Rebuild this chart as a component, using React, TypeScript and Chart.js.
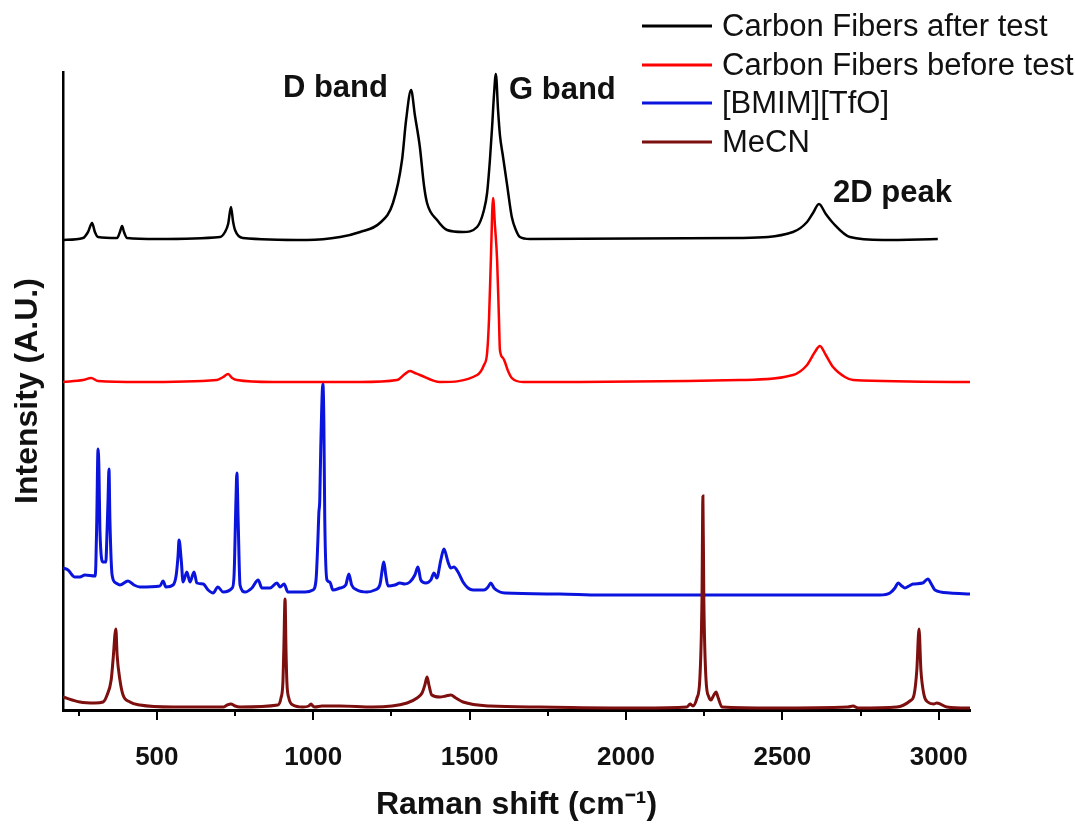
import React, { useEffect, useRef } from "react";
import { Chart, registerables } from "chart.js";

Chart.register(...registerables);

// ---- axis ranges / ticks ----
const X_MIN = 200;
const X_MAX = 3100;
const Y_MIN = 0;
const Y_MAX = 638;
const MAJOR_TICKS = [500, 1000, 1500, 2000, 2500, 3000];
const MINOR_TICKS = [250, 750, 1250, 1750, 2250, 2750];

// ---- series labels & colours ----
const SERIES_LABELS = [
  "Carbon Fibers after test",
  "Carbon Fibers before test",
  "[BMIM][TfO]",
  "MeCN",
];
const SERIES_COLORS = ["#000000", "#ff0000", "#0a14dc", "#7d0f0f"];

// ---- spectra: [Raman shift (cm-1), stacked intensity (A.U.)] ----
const CF_AFTER: [number, number][] = [
  [200, 470], [264, 472], [280, 478], [293, 487], [302, 478], [312, 473], [373, 472], [382, 478],
  [389, 484], [395, 478], [405, 472], [501, 471], [702, 473], [718, 478], [728, 486], [737, 503],
  [744, 488], [750, 480], [775, 472], [980, 470], [1086, 473], [1150, 478], [1213, 487], [1255, 507],
  [1284, 550], [1297, 590], [1313, 620], [1325, 595], [1341, 563], [1354, 525], [1364, 507],
  [1396, 490], [1428, 480], [1479, 478], [1524, 483], [1546, 500], [1556, 517], [1565, 550],
  [1572, 583], [1578, 615], [1584, 636], [1591, 600], [1597, 575], [1607, 553], [1620, 525],
  [1635, 493], [1648, 480], [1661, 473], [1693, 471], [2364, 472], [2534, 478], [2579, 488],
  [2598, 497], [2617, 506], [2639, 496], [2662, 487], [2716, 473], [2822, 470], [2997, 471],
];

const CF_BEFORE: [number, number][] = [
  [200, 328], [264, 330], [290, 332], [312, 329], [446, 328], [692, 330], [712, 333], [728, 336],
  [741, 332], [756, 330], [871, 328], [1150, 328], [1268, 330], [1293, 336], [1309, 339], [1325, 337],
  [1341, 335], [1405, 328], [1524, 335], [1546, 345], [1556, 357], [1562, 390], [1568, 450],
  [1575, 512], [1581, 485], [1588, 450], [1594, 390], [1597, 360], [1607, 352], [1613, 348],
  [1623, 339], [1635, 332], [1671, 328], [2364, 330], [2534, 335], [2579, 345], [2604, 358],
  [2620, 364], [2639, 355], [2662, 343], [2700, 333], [2726, 330], [3100, 328],
];

const BMIM_TFO: [number, number][] = [
  [200, 142], [216, 140], [238, 133], [254, 133], [270, 135], [302, 134], [305, 145], [308, 190],
  [312, 261], [315, 240], [318, 180], [328, 148], [337, 148], [340, 170], [344, 210], [347, 241],
  [350, 190], [357, 135], [369, 127], [382, 125], [408, 129], [427, 125], [446, 123], [510, 124],
  [520, 129], [529, 123], [552, 125], [562, 135], [568, 155], [571, 170], [578, 150], [584, 128],
  [596, 138], [606, 128], [619, 138], [628, 127], [648, 126], [664, 120], [680, 117], [695, 123],
  [712, 118], [741, 122], [747, 135], [753, 210], [756, 237], [760, 190], [766, 125], [782, 118],
  [804, 122], [824, 130], [836, 122], [862, 122], [884, 127], [894, 123], [907, 126], [919, 118],
  [974, 118], [999, 120], [1009, 130], [1015, 170], [1018, 197], [1021, 210], [1024, 260],
  [1031, 326], [1034, 290], [1037, 190], [1044, 130], [1053, 128], [1063, 120], [1086, 122],
  [1104, 125], [1114, 136], [1123, 125], [1140, 120], [1172, 118], [1197, 120], [1213, 125],
  [1223, 145], [1226, 148], [1232, 135], [1239, 124], [1261, 125], [1277, 127], [1293, 126],
  [1309, 128], [1325, 135], [1335, 143], [1344, 130], [1360, 127], [1376, 130], [1386, 137],
  [1395, 132], [1408, 150], [1418, 161], [1431, 148], [1440, 142], [1450, 143], [1463, 138],
  [1479, 128], [1495, 122], [1511, 120], [1546, 120], [1559, 123], [1568, 127], [1578, 122],
  [1597, 118], [1613, 117], [1789, 116], [1917, 115], [2109, 115], [2364, 115], [2556, 115],
  [2812, 115], [2844, 117], [2860, 122], [2870, 127], [2882, 124], [2892, 122], [2905, 124],
  [2918, 126], [2949, 127], [2965, 131], [2978, 125], [2988, 120], [3036, 117], [3100, 116],
];

const MECN: [number, number][] = [
  [200, 13], [254, 8], [302, 7], [328, 8], [341, 15], [354, 30], [360, 50], [369, 81], [373, 55],
  [382, 30], [392, 15], [414, 8], [446, 5], [552, 3], [712, 3], [725, 5], [737, 6], [750, 4],
  [766, 3], [887, 5], [897, 12], [903, 27], [906, 60], [910, 111], [913, 60], [916, 27], [922, 12],
  [935, 5], [967, 3], [986, 4], [993, 6], [999, 4], [1005, 3], [1028, 4], [1086, 4], [1191, 3],
  [1300, 7], [1332, 12], [1348, 17], [1357, 25], [1364, 33], [1370, 25], [1379, 15], [1405, 13],
  [1424, 14], [1440, 15], [1456, 12], [1479, 8], [1565, 4], [1725, 3], [2045, 2], [2195, 3],
  [2205, 6], [2214, 4], [2227, 12], [2236, 30], [2243, 110], [2246, 214], [2249, 110], [2256, 30],
  [2265, 13], [2272, 10], [2281, 15], [2288, 18], [2294, 13], [2307, 3], [2470, 2], [2710, 3],
  [2726, 4], [2742, 2], [2866, 3], [2908, 9], [2921, 15], [2930, 40], [2937, 81], [2943, 40],
  [2953, 15], [2965, 8], [2984, 6], [2994, 7], [3026, 3], [3093, 2], [3100, 2],
];

const SERIES_DATA = [CF_AFTER, CF_BEFORE, BMIM_TFO, MECN];

// ---- band annotations (text, x in cm-1, y in A.U., alignment) ----
const ANNOTATION_TEXT = ["D band", "G band", "2D peak"];
const ANNOTATION_X = [1239, 1626, 2662];
const ANNOTATION_Y = [622, 620, 517];
const ANNOTATION_ALIGN: CanvasTextAlign[] = ["right", "left", "left"];

const FONT = "'Liberation Sans', Arial, Helvetica, sans-serif";

const overlayPlugin = {
  id: "overlay",
  afterDraw(chart: any) {
    const ctx: CanvasRenderingContext2D = chart.ctx;
    const xs = chart.scales.x;
    const ys = chart.scales.y;
    ctx.save();
    // minor ticks
    ctx.strokeStyle = "#000";
    ctx.lineWidth = 2;
    for (const v of MINOR_TICKS) {
      const px = Math.round(xs.getPixelForValue(v));
      ctx.beginPath();
      ctx.moveTo(px, xs.top);
      ctx.lineTo(px, xs.top + 6);
      ctx.stroke();
    }
    // annotations
    ctx.fillStyle = "#111";
    ctx.font = `bold 31px ${FONT}`;
    ctx.textBaseline = "middle";
    ANNOTATION_TEXT.forEach((t, i) => {
      ctx.textAlign = ANNOTATION_ALIGN[i];
      ctx.fillText(t, xs.getPixelForValue(ANNOTATION_X[i]), ys.getPixelForValue(ANNOTATION_Y[i]));
    });
    // legend
    const rows = [26, 65, 103, 142];
    ctx.font = `31px ${FONT}`;
    ctx.textAlign = "left";
    chart.data.datasets.forEach((ds: any, i: number) => {
      const y = rows[i];
      ctx.strokeStyle = ds.borderColor;
      ctx.lineWidth = 3;
      ctx.beginPath();
      ctx.moveTo(642, y);
      ctx.lineTo(712, y);
      ctx.stroke();
      ctx.fillStyle = "#111";
      ctx.fillText(ds.label, 722, y + 1);
    });
    ctx.restore();
  },
};

export default function App() {
  const canvasRef = useRef<HTMLCanvasElement | null>(null);

  useEffect(() => {
    document.body.style.margin = "0";
    const canvas = canvasRef.current;
    if (!canvas) return;
    const chart = new Chart(canvas, {
      type: "line",
      data: {
        datasets: SERIES_DATA.map((arr, i) => ({
          label: SERIES_LABELS[i],
          data: arr.map(([x, y]) => ({ x, y })),
          borderColor: SERIES_COLORS[i],
          backgroundColor: SERIES_COLORS[i],
          borderWidth: i >= 2 ? 3 : 2.5,
          pointRadius: 0,
          fill: false,
          cubicInterpolationMode: "monotone" as const,
          order: i === 3 ? 0 : 1,
        })),
      },
      options: {
        responsive: false,
        animation: false,
        devicePixelRatio: 1,
        layout: { padding: { top: 72, right: 105, left: 0, bottom: 0 } },
        plugins: {
          legend: { display: false },
          tooltip: { enabled: false },
        },
        scales: {
          x: {
            type: "linear",
            min: X_MIN,
            max: X_MAX,
            afterBuildTicks: (s: any) => {
              s.ticks = MAJOR_TICKS.map((v) => ({ value: v }));
            },
            afterFit: (s: any) => {
              s.height = 114;
            },
            border: { display: true, color: "#000", width: 3 },
            grid: {
              display: true,
              drawOnChartArea: false,
              drawTicks: true,
              tickLength: 10,
              color: "#000",
              lineWidth: 2,
            },
            ticks: {
              autoSkip: false,
              maxRotation: 0,
              color: "#111",
              padding: 22,
              callback: (v: any) => String(v),
              font: { family: FONT, size: 26, weight: "bold" },
            },
            title: {
              display: true,
              text: "Raman shift (cm\u207B\u00B9)",
              color: "#111",
              padding: { top: 0, bottom: 0 },
              font: { family: FONT, size: 32, weight: "bold" },
            },
          },
          y: {
            type: "linear",
            min: Y_MIN,
            max: Y_MAX,
            afterFit: (s: any) => {
              s.width = 63;
            },
            border: { display: true, color: "#000", width: 2.5 },
            grid: { display: false },
            ticks: { display: false },
            title: {
              display: true,
              text: "Intensity (A.U.)",
              color: "#111",
              padding: { top: 9, bottom: 0 },
              font: { family: FONT, size: 32, weight: "bold" },
            },
          },
        },
      },
      plugins: [overlayPlugin],
    });
    return () => chart.destroy();
  }, []);

  return (
    <div style={{ position: "absolute", left: 0, top: 0, width: 1075, height: 824, background: "#fff" }}>
      <canvas ref={canvasRef} width={1075} height={824} style={{ width: 1075, height: 824 }} />
    </div>
  );
}
